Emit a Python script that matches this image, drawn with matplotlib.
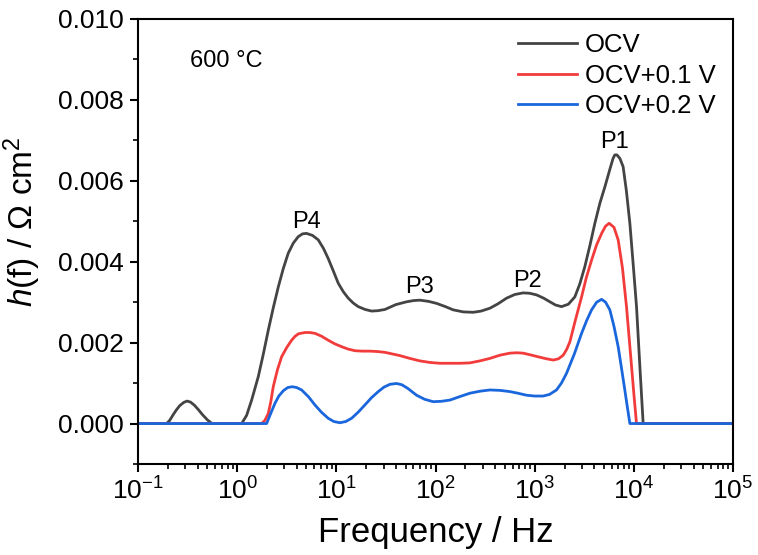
import numpy as np
import matplotlib
matplotlib.use("Agg")
import matplotlib.pyplot as plt
from matplotlib.ticker import FixedLocator, LogLocator, NullFormatter, FuncFormatter

plt.rcParams['font.family'] = ['Liberation Sans', 'DejaVu Sans']
plt.rcParams['mathtext.fontset'] = 'custom'
plt.rcParams['mathtext.rm'] = 'Liberation Sans'
plt.rcParams['mathtext.it'] = 'Liberation Sans:italic'
plt.rcParams['mathtext.bf'] = 'Liberation Sans:bold'

# ---- data (log10 frequency / Hz, h(f) in 1e-3 Ohm cm^2) ----
ocv_logf = [-1.0, -0.711, -0.68, -0.65, -0.615, -0.58, -0.54, -0.506, -0.47, -0.43,
            -0.39, -0.35, -0.30, -0.254, 0.045, 0.095, 0.146, 0.213, 0.264, 0.314,
            0.365, 0.415, 0.465, 0.515, 0.566, 0.616, 0.660, 0.700, 0.760, 0.818,
            0.870, 0.918, 0.970, 1.019, 1.070, 1.120, 1.170, 1.221, 1.290, 1.356,
            1.420, 1.490, 1.600, 1.709, 1.780, 1.843, 1.930, 2.011, 2.100, 2.179,
            2.280, 2.380, 2.460, 2.548, 2.630, 2.717, 2.800, 2.884, 2.950, 3.019,
            3.090, 3.153, 3.210, 3.271, 3.340, 3.405, 3.455, 3.506, 3.557, 3.607,
            3.658, 3.708, 3.760, 3.790, 3.808, 3.830, 3.860, 3.892, 3.925, 3.960,
            3.993, 4.027, 4.060, 4.094, 5.0]
ocv_h = [0, 0, 0.08, 0.20, 0.33, 0.44, 0.52, 0.556, 0.53, 0.45,
         0.34, 0.22, 0.09, 0, 0, 0.20, 0.58, 1.16, 1.72, 2.31,
         2.87, 3.38, 3.83, 4.21, 4.46, 4.62, 4.69, 4.70, 4.65, 4.54,
         4.33, 4.08, 3.77, 3.47, 3.26, 3.10, 2.98, 2.89, 2.82, 2.78,
         2.79, 2.82, 2.94, 3.01, 3.04, 3.05, 3.02, 2.97, 2.89, 2.81,
         2.76, 2.75, 2.78, 2.85, 2.96, 3.10, 3.19, 3.23, 3.22, 3.18,
         3.10, 3.01, 2.93, 2.89, 2.95, 3.13, 3.45, 3.88, 4.40, 4.95,
         5.45, 5.85, 6.30, 6.55, 6.64, 6.64, 6.55, 6.35, 5.75, 4.95,
         3.95, 2.89, 1.45, 0, 0]

ocv01_logf = [-1.0, 0.247, 0.280, 0.314, 0.340, 0.364, 0.405, 0.448, 0.500, 0.549,
              0.585, 0.620, 0.683, 0.730, 0.784, 0.850, 0.918, 0.985, 1.053, 1.120,
              1.188, 1.260, 1.339, 1.415, 1.490, 1.565, 1.640, 1.742, 1.840, 1.944,
              2.045, 2.145, 2.250, 2.347, 2.450, 2.548, 2.650, 2.750, 2.820, 2.884,
              2.970, 3.052, 3.120, 3.187, 3.240, 3.288, 3.322, 3.355, 3.410, 3.473,
              3.520, 3.574, 3.625, 3.675, 3.715, 3.751, 3.800, 3.842, 3.885, 3.926,
              3.955, 3.983, 4.005, 4.027, 5.0]
ocv01_h = [0, 0, 0.08, 0.25, 0.55, 0.91, 1.32, 1.65, 1.88, 2.06,
           2.16, 2.22, 2.25, 2.25, 2.23, 2.16, 2.06, 1.97, 1.90, 1.84,
           1.80, 1.79, 1.79, 1.78, 1.76, 1.72, 1.68, 1.61, 1.55, 1.51,
           1.49, 1.49, 1.49, 1.50, 1.55, 1.61, 1.69, 1.74, 1.75, 1.74,
           1.69, 1.64, 1.60, 1.57, 1.60, 1.69, 1.83, 2.02, 2.55, 3.13,
           3.60, 4.04, 4.42, 4.70, 4.88, 4.95, 4.85, 4.54, 3.85, 2.89,
           2.05, 1.24, 0.60, 0, 0]

ocv02_logf = [-1.0, 0.297, 0.340, 0.381, 0.420, 0.465, 0.510, 0.556, 0.600, 0.650,
              0.720, 0.784, 0.850, 0.918, 0.975, 1.036, 1.095, 1.154, 1.220, 1.288,
              1.355, 1.423, 1.480, 1.540, 1.607, 1.660, 1.720, 1.809, 1.890, 1.977,
              2.060, 2.145, 2.250, 2.347, 2.450, 2.548, 2.650, 2.750, 2.830, 2.918,
              3.000, 3.086, 3.150, 3.220, 3.270, 3.321, 3.400, 3.473, 3.525, 3.574,
              3.625, 3.675, 3.715, 3.758, 3.800, 3.842, 3.875, 3.909, 3.935, 3.960,
              5.0]
ocv02_h = [0, 0, 0.26, 0.50, 0.68, 0.81, 0.89, 0.91, 0.89, 0.83,
           0.66, 0.46, 0.28, 0.13, 0.05, 0.02, 0.05, 0.13, 0.28, 0.46,
           0.64, 0.79, 0.90, 0.97, 0.99, 0.96, 0.87, 0.70, 0.60, 0.54,
           0.55, 0.58, 0.67, 0.75, 0.80, 0.83, 0.82, 0.79, 0.75, 0.70,
           0.68, 0.68, 0.72, 0.83, 1.00, 1.24, 1.72, 2.23, 2.55, 2.81,
           3.00, 3.07, 3.00, 2.81, 2.40, 1.90, 1.38, 0.83, 0.40, 0,
           0]

series_labels = ['OCV', 'OCV+0.1 V', 'OCV+0.2 V']
series_colors = ['#444444', '#f23c3c', '#1a66dc']
y_ticks = [0.000, 0.002, 0.004, 0.006, 0.008, 0.010]
x_ticks = [1e-1, 1e0, 1e1, 1e2, 1e3, 1e4, 1e5]
peak_labels = ['P4', 'P3', 'P2', 'P1']

fig = plt.figure(figsize=(7.58, 5.55), dpi=100)
ax = fig.add_axes([138/758, 1-464/555, 595/758, 445/555])

for lf, hv, lab, col in zip([ocv_logf, ocv01_logf, ocv02_logf],
                            [ocv_h, ocv01_h, ocv02_h],
                            series_labels, series_colors):
    ax.plot(10**np.array(lf), np.array(hv)*1e-3, color=col, lw=2.0, label=lab,
            solid_joinstyle='round')

ax.set_xscale('log')
ax.set_xlim(1e-1, 1e5)
ax.set_ylim(-0.001, 0.010)
ax.xaxis.set_major_locator(FixedLocator(x_ticks))
ax.xaxis.set_minor_locator(LogLocator(base=10, subs=np.arange(2, 10)))
ax.xaxis.set_minor_formatter(NullFormatter())
ax.xaxis.set_major_formatter(FuncFormatter(lambda v, p: r'$10^{%d}$' % int(round(np.log10(v)))))
ax.yaxis.set_major_locator(FixedLocator(y_ticks))
ax.yaxis.set_minor_locator(FixedLocator(np.arange(-0.001, 0.0105, 0.001)))
ax.yaxis.set_major_formatter(FuncFormatter(lambda v, p: '%.3f' % v))

for s in ax.spines.values():
    s.set_linewidth(1.5)
ax.tick_params(which='major', direction='out', length=6, width=1.5, labelsize=19, pad=4)
ax.tick_params(which='minor', direction='out', length=3.5, width=1.2)
ax.tick_params(top=False, right=False, which='both')

ax.set_xlabel('Frequency / Hz', fontsize=25, labelpad=8)
ax.set_ylabel(r'$\mathit{h}$(f) / Ω cm$^{2}$', fontsize=24)
ax.yaxis.set_label_coords(-0.16, 0.544)

# peak annotations
peak_pos = [(5.02, 0.00484), (69.7, 0.00323), (853, 0.00337), (6430, 0.00682)]
for lab, (xx, yy) in zip(peak_labels, peak_pos):
    ax.text(xx, yy, lab, fontsize=17, ha='center', va='baseline')

ax.text(0.087, 0.893, '600 °C', transform=ax.transAxes, fontsize=17,
        ha='left', va='baseline')

leg = ax.legend(loc='upper left', bbox_to_anchor=(0.639, 0.968), frameon=False,
                fontsize=18.5, handlelength=2.3, handletextpad=0.3, labelspacing=0.25,
                borderpad=0, borderaxespad=0)

fig.savefig('out.png', dpi=100)
